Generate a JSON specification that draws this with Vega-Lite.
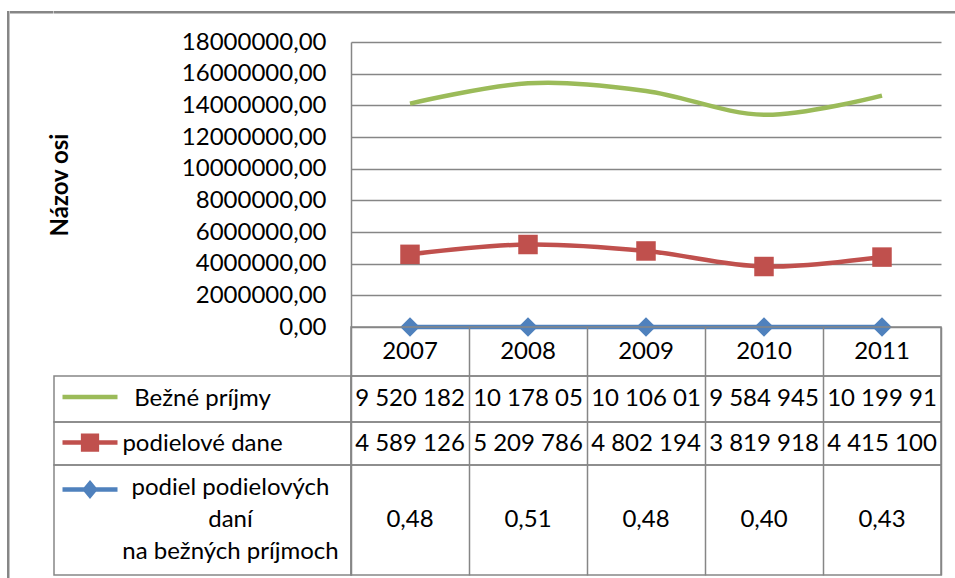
{
  "$schema": "https://vega.github.io/schema/vega-lite/v6.json",
  "autosize": "pad",
  "padding": {"left": 7, "top": 11, "right": 0, "bottom": 0},
  "background": "white",
  "config": {
    "view": {"stroke": null},
    "font": "Lato",
    "text": {"font": "Lato", "fontSize": 24, "color": "black"},
    "locale": {"number": {"decimal": ",", "thousands": " ", "grouping": [3], "currency": ["", ""]}}
  },
  "datasets": {
    "hodnoty": [
      {"rok": 2007, "rad": "Bežné príjmy", "hodnota": 9520182},
      {"rok": 2008, "rad": "Bežné príjmy", "hodnota": 10178050},
      {"rok": 2009, "rad": "Bežné príjmy", "hodnota": 10106010},
      {"rok": 2010, "rad": "Bežné príjmy", "hodnota": 9584945},
      {"rok": 2011, "rad": "Bežné príjmy", "hodnota": 10199910},
      {"rok": 2007, "rad": "podielové dane", "hodnota": 4589126},
      {"rok": 2008, "rad": "podielové dane", "hodnota": 5209786},
      {"rok": 2009, "rad": "podielové dane", "hodnota": 4802194},
      {"rok": 2010, "rad": "podielové dane", "hodnota": 3819918},
      {"rok": 2011, "rad": "podielové dane", "hodnota": 4415100},
      {"rok": 2007, "rad": "podiel podielových daní na bežných príjmoch", "hodnota": 0.48},
      {"rok": 2008, "rad": "podiel podielových daní na bežných príjmoch", "hodnota": 0.51},
      {"rok": 2009, "rad": "podiel podielových daní na bežných príjmoch", "hodnota": 0.48},
      {"rok": 2010, "rad": "podiel podielových daní na bežných príjmoch", "hodnota": 0.40},
      {"rok": 2011, "rad": "podiel podielových daní na bežných príjmoch", "hodnota": 0.43}
    ],
    "rady": [
      {"rad": "Bežné príjmy", "popis": "Bežné príjmy"},
      {"rad": "podielové dane", "popis": "podielové dane"},
      {"rad": "podiel podielových daní na bežných príjmoch", "popis": ["podiel podielových", "daní", "na bežných príjmoch"]}
    ]
  },
  "bounds": "flush",
  "align": "each",
  "spacing": 0,
  "columns": 4,
  "resolve": {"scale": {"color": "independent"}, "legend": {"color": "independent"}},
  "concat": [
    {"width": 2.5, "height": 31, "view": {"fill": "#868686", "stroke": null}, "data": {"values": [{}]}, "mark": {"type": "text", "fontSize": 1}},
    {"width": 43.5, "height": 2.5, "view": {"fill": "#868686", "stroke": null}, "data": {"values": [{}]}, "mark": {"type": "text", "fontSize": 1}},
    {"width": 297, "height": 2.5, "view": {"fill": "#868686", "stroke": null}, "data": {"values": [{}]}, "mark": {"type": "text", "fontSize": 1}},
    {"width": 620, "height": 2.5, "view": {"fill": "#868686", "stroke": null}, "data": {"values": [{}]}, "mark": {"type": "text", "fontSize": 1}},

    {"width": 2.5, "height": 285, "view": {"fill": "#868686", "stroke": null}, "data": {"values": [{}]}, "mark": {"type": "text", "fontSize": 1}},
    {"width": 1, "height": 1, "data": {"values": [{}]}, "mark": {"type": "text", "fontSize": 1}},
    {"width": 1, "height": 1, "data": {"values": [{}]}, "mark": {"type": "text", "fontSize": 1}},
    {
      "width": 590, "height": 285,
      "data": {"name": "hodnoty"},
      "transform": [{"stack": "hodnota", "groupby": ["rok"], "sort": [{"field": "hodnota", "order": "ascending"}], "as": ["spodok", "vrch"]}],
      "encoding": {
        "x": {"field": "rok", "type": "ordinal", "scale": {"type": "point", "padding": 0.5}, "axis": null},
        "y": {"field": "vrch", "type": "quantitative", "scale": {"domain": [0, 18000000], "nice": false},
          "axis": {"values": [0, 2000000, 4000000, 6000000, 8000000, 10000000, 12000000, 14000000, 16000000, 18000000], "format": ".2f",
            "title": "Názov osi", "titleFont": "Lato", "titleFontSize": 24, "titleFontWeight": "bold", "titleColor": "black", "titleX": -291, "titleBaseline": "middle", "titleAngle": 270,
            "labelFont": "Lato", "labelFontSize": 24, "labelColor": "black", "labelPadding": 25, "ticks": false,
            "domain": true, "domainColor": "#868686", "domainWidth": 1.5, "grid": true, "gridColor": "#868686", "gridWidth": 1.5, "gridOpacity": 1}},
        "color": {"field": "rad", "type": "nominal", "scale": {"domain": ["Bežné príjmy", "podielové dane", "podiel podielových daní na bežných príjmoch"], "range": ["#9BBB59", "#C0504D", "#4F81BD"]}, "legend": null}
      },
      "layer": [
        {"mark": {"type": "line", "interpolate": "catmull-rom", "strokeWidth": 4.5}},
        {
          "transform": [{"filter": "datum.rad !== 'Bežné príjmy'"}],
          "mark": {"type": "point", "filled": true, "opacity": 1, "size": 380},
          "encoding": {"shape": {"field": "rad", "type": "nominal", "scale": {"domain": ["podielové dane", "podiel podielových daní na bežných príjmoch"], "range": ["square", "diamond"]}, "legend": null}}
        }
      ]
    },

    {"width": 2.5, "height": 49, "view": {"fill": "#868686", "stroke": null}, "data": {"values": [{}]}, "mark": {"type": "text", "fontSize": 1}},
    {"width": 1, "height": 1, "data": {"values": [{}]}, "mark": {"type": "text", "fontSize": 1}},
    {"width": 1, "height": 1, "data": {"values": [{}]}, "mark": {"type": "text", "fontSize": 1}},
    {
      "width": 590, "height": 49,
      "view": {"stroke": "#868686", "strokeWidth": 1.5},
      "data": {"name": "hodnoty"},
      "transform": [{"filter": "datum.rad === 'podielové dane'"}],
      "mark": {"type": "text", "fontSize": 24},
      "encoding": {
        "x": {"field": "rok", "type": "ordinal", "scale": {"type": "band", "paddingInner": 0, "paddingOuter": 0},
          "axis": {"grid": true, "tickBand": "extent", "labels": false, "ticks": false, "domain": false, "title": null, "gridColor": "#868686", "gridWidth": 1.5, "gridOpacity": 1}},
        "text": {"field": "rok", "type": "nominal"}
      }
    },

    {"width": 2.5, "height": 46, "view": {"fill": "#868686", "stroke": null}, "data": {"values": [{}]}, "mark": {"type": "text", "fontSize": 1}},
    {"width": 1, "height": 1, "data": {"values": [{}]}, "mark": {"type": "text", "fontSize": 1}},
    {
      "width": 297, "height": 46,
      "view": {"stroke": "#868686", "strokeWidth": 1.5},
      "data": {"name": "rady"},
      "transform": [{"filter": "datum.rad === 'Bežné príjmy'"}],
      "layer": [
        {
          "mark": {"type": "point", "filled": true, "opacity": 0},
          "encoding": {
            "color": {"field": "rad", "type": "nominal", "scale": {"range": ["#9BBB59"]},
              "legend": {"title": null, "orient": "none", "legendX": 6, "legendY": -9, "symbolType": "M-1,0H1", "symbolSize": 3025, "symbolStrokeWidth": 4.5, "symbolStrokeColor": "#9BBB59", "symbolFillColor": "#9BBB59", "symbolOpacity": 1, "labelExpr": "''", "padding": 0, "offset": 0, "symbolOffset": 0, "labelOffset": 0}}
          }
        },
        {"mark": {"type": "text", "fontSize": 24}, "encoding": {"text": {"field": "popis", "type": "nominal"}}}
      ]
    },
    {
      "width": 590, "height": 46,
      "view": {"stroke": "#868686", "strokeWidth": 1.5},
      "data": {"name": "hodnoty"},
      "transform": [{"filter": "datum.rad === 'Bežné príjmy'"}],
      "mark": {"type": "text", "fontSize": 24, "limit": 114, "ellipsis": "\u200b"},
      "encoding": {
        "x": {"field": "rok", "type": "ordinal", "scale": {"type": "band", "paddingInner": 0, "paddingOuter": 0},
          "axis": {"grid": true, "tickBand": "extent", "labels": false, "ticks": false, "domain": false, "title": null, "gridColor": "#868686", "gridWidth": 1.5, "gridOpacity": 1}},
        "text": {"field": "hodnota", "type": "quantitative", "format": ",.0f"}
      }
    },

    {"width": 2.5, "height": 43, "view": {"fill": "#868686", "stroke": null}, "data": {"values": [{}]}, "mark": {"type": "text", "fontSize": 1}},
    {"width": 1, "height": 1, "data": {"values": [{}]}, "mark": {"type": "text", "fontSize": 1}},
    {
      "width": 297, "height": 43,
      "view": {"stroke": "#868686", "strokeWidth": 1.5},
      "data": {"name": "rady"},
      "transform": [{"filter": "datum.rad === 'podielové dane'"}],
      "layer": [
        {
          "mark": {"type": "point", "filled": true, "opacity": 0},
          "encoding": {
            "color": {"field": "rad", "type": "nominal", "scale": {"range": ["#C0504D"]},
              "legend": {"title": null, "orient": "none", "legendX": 6, "legendY": -9.5, "symbolType": "M-1,0H1M-0.25,-0.25H0.25V0.25H-0.25Z", "symbolSize": 3025, "symbolStrokeWidth": 4.5, "symbolStrokeColor": "#C0504D", "symbolFillColor": "#C0504D", "symbolOpacity": 1, "labelExpr": "''", "padding": 0, "offset": 0, "symbolOffset": 0, "labelOffset": 0}}
          }
        },
        {"mark": {"type": "text", "fontSize": 24}, "encoding": {"text": {"field": "popis", "type": "nominal"}}}
      ]
    },
    {
      "width": 590, "height": 43,
      "view": {"stroke": "#868686", "strokeWidth": 1.5},
      "data": {"name": "hodnoty"},
      "transform": [{"filter": "datum.rad === 'podielové dane'"}],
      "mark": {"type": "text", "fontSize": 24, "limit": 114, "ellipsis": "\u200b"},
      "encoding": {
        "x": {"field": "rok", "type": "ordinal", "scale": {"type": "band", "paddingInner": 0, "paddingOuter": 0},
          "axis": {"grid": true, "tickBand": "extent", "labels": false, "ticks": false, "domain": false, "title": null, "gridColor": "#868686", "gridWidth": 1.5, "gridOpacity": 1}},
        "text": {"field": "hodnota", "type": "quantitative", "format": ",.0f"}
      }
    },

    {"width": 2.5, "height": 140, "view": {"fill": "#868686", "stroke": null}, "data": {"values": [{}]}, "mark": {"type": "text", "fontSize": 1}},
    {"width": 1, "height": 1, "data": {"values": [{}]}, "mark": {"type": "text", "fontSize": 1}},
    {
      "width": 297, "height": 110,
      "view": {"stroke": "#868686", "strokeWidth": 1.5},
      "data": {"name": "rady"},
      "transform": [{"filter": "datum.rad === 'podiel podielových daní na bežných príjmoch'"}],
      "layer": [
        {
          "mark": {"type": "point", "filled": true, "opacity": 0},
          "encoding": {
            "color": {"field": "rad", "type": "nominal", "scale": {"range": ["#4F81BD"]},
              "legend": {"title": null, "orient": "none", "legendX": 6, "legendY": -5.5, "symbolType": "M-1,0H1M0,-0.22L0.18,0L0,0.22L-0.18,0Z", "symbolSize": 3025, "symbolStrokeWidth": 4.5, "symbolStrokeColor": "#4F81BD", "symbolFillColor": "#4F81BD", "symbolOpacity": 1, "labelExpr": "''", "padding": 0, "offset": 0, "symbolOffset": 0, "labelOffset": 0}}
          }
        },
        {"mark": {"type": "text", "fontSize": 24, "lineHeight": 32, "dx": 28, "dy": -32}, "encoding": {"text": {"field": "popis", "type": "nominal"}}}
      ]
    },
    {
      "width": 590, "height": 110,
      "view": {"stroke": "#868686", "strokeWidth": 1.5},
      "data": {"name": "hodnoty"},
      "transform": [{"filter": "datum.rad === 'podiel podielových daní na bežných príjmoch'"}],
      "mark": {"type": "text", "fontSize": 24},
      "encoding": {
        "x": {"field": "rok", "type": "ordinal", "scale": {"type": "band", "paddingInner": 0, "paddingOuter": 0},
          "axis": {"grid": true, "tickBand": "extent", "labels": false, "ticks": false, "domain": false, "title": null, "gridColor": "#868686", "gridWidth": 1.5, "gridOpacity": 1}},
        "text": {"field": "hodnota", "type": "quantitative", "format": ".2f"}
      }
    }
  ]
}
